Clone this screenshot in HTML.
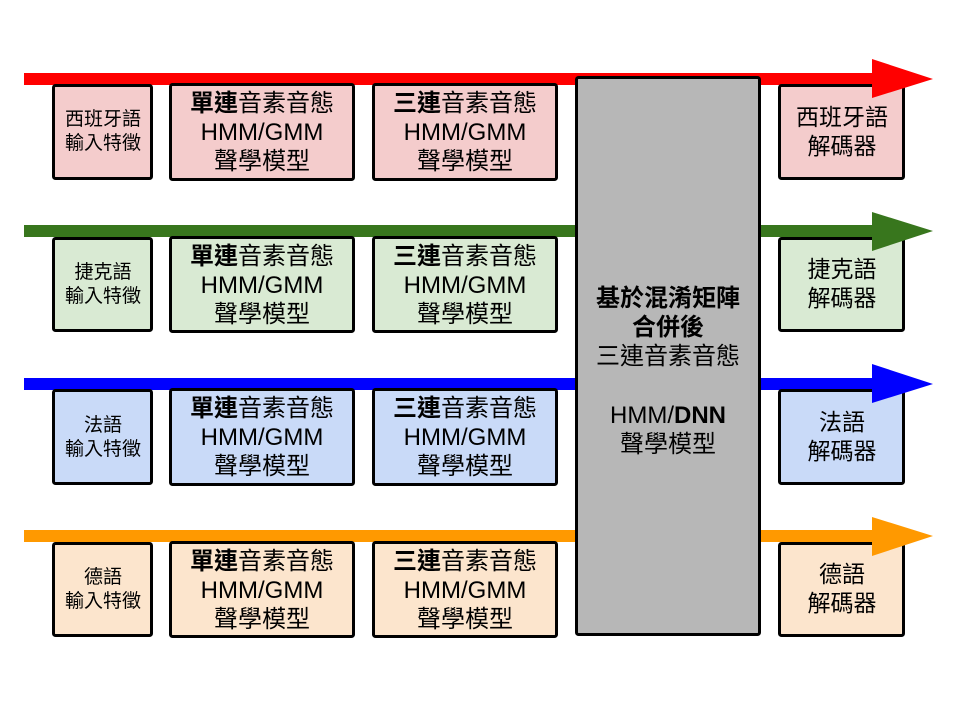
<!DOCTYPE html>
<html><head><meta charset="utf-8"><style>
html,body{margin:0;padding:0;background:#fff;}
svg{display:block}
text{font-family:"Liberation Sans","Noto Sans CJK TC",sans-serif;fill:#000;text-anchor:middle}
</style></head><body>
<svg width="960" height="720" viewBox="0 0 960 720" xmlns="http://www.w3.org/2000/svg">
<g>
<rect x="24" y="73" width="852" height="12" fill="#ff0000"/>
<rect x="53.5" y="85.5" width="98" height="93" rx="2" fill="#f4cccc" stroke="#000" stroke-width="3"/>
<rect x="170.5" y="84.5" width="183" height="95" rx="2" fill="#f4cccc" stroke="#000" stroke-width="3"/>
<rect x="373.5" y="84.5" width="183" height="95" rx="2" fill="#f4cccc" stroke="#000" stroke-width="3"/>
<rect x="779.5" y="85.5" width="124" height="93" rx="2" fill="#f4cccc" stroke="#000" stroke-width="3"/>
<polygon points="872,59 933,79 872,98" fill="#ff0000"/>
<text x="103" y="125" font-size="19">西班牙語</text><text x="103" y="149" font-size="19">輸入特徵</text>
<text x="262" y="111" font-size="24"><tspan font-weight="bold">單連</tspan>音素音態</text><text x="262" y="140" font-size="24">HMM/GMM</text><text x="262" y="169" font-size="24">聲學模型</text>
<text x="465" y="111" font-size="24"><tspan font-weight="bold">三連</tspan>音素音態</text><text x="465" y="140" font-size="24">HMM/GMM</text><text x="465" y="169" font-size="24">聲學模型</text>
<text x="842" y="125" font-size="23">西班牙語</text><text x="842" y="154" font-size="23">解碼器</text>
</g>
<g>
<rect x="24" y="225" width="852" height="12" fill="#38761d"/>
<rect x="53.5" y="238.5" width="98" height="92" rx="2" fill="#d9ead3" stroke="#000" stroke-width="3"/>
<rect x="170.5" y="237.5" width="183" height="94" rx="2" fill="#d9ead3" stroke="#000" stroke-width="3"/>
<rect x="373.5" y="237.5" width="183" height="94" rx="2" fill="#d9ead3" stroke="#000" stroke-width="3"/>
<rect x="779.5" y="238.5" width="124" height="92" rx="2" fill="#d9ead3" stroke="#000" stroke-width="3"/>
<polygon points="872,212 933,231 872,251" fill="#38761d"/>
<text x="103" y="278" font-size="19">捷克語</text><text x="103" y="302" font-size="19">輸入特徵</text>
<text x="262" y="264" font-size="24"><tspan font-weight="bold">單連</tspan>音素音態</text><text x="262" y="293" font-size="24">HMM/GMM</text><text x="262" y="322" font-size="24">聲學模型</text>
<text x="465" y="264" font-size="24"><tspan font-weight="bold">三連</tspan>音素音態</text><text x="465" y="293" font-size="24">HMM/GMM</text><text x="465" y="322" font-size="24">聲學模型</text>
<text x="842" y="277" font-size="23">捷克語</text><text x="842" y="306" font-size="23">解碼器</text>
</g>
<g>
<rect x="24" y="378" width="852" height="12" fill="#0000ff"/>
<rect x="53.5" y="390.5" width="98" height="93" rx="2" fill="#c9daf8" stroke="#000" stroke-width="3"/>
<rect x="170.5" y="389.5" width="183" height="95" rx="2" fill="#c9daf8" stroke="#000" stroke-width="3"/>
<rect x="373.5" y="389.5" width="183" height="95" rx="2" fill="#c9daf8" stroke="#000" stroke-width="3"/>
<rect x="779.5" y="390.5" width="124" height="93" rx="2" fill="#c9daf8" stroke="#000" stroke-width="3"/>
<polygon points="872,364 933,384 872,403" fill="#0000ff"/>
<text x="103" y="431" font-size="19">法語</text><text x="103" y="455" font-size="19">輸入特徵</text>
<text x="262" y="416" font-size="24"><tspan font-weight="bold">單連</tspan>音素音態</text><text x="262" y="445" font-size="24">HMM/GMM</text><text x="262" y="474" font-size="24">聲學模型</text>
<text x="465" y="416" font-size="24"><tspan font-weight="bold">三連</tspan>音素音態</text><text x="465" y="445" font-size="24">HMM/GMM</text><text x="465" y="474" font-size="24">聲學模型</text>
<text x="842" y="430" font-size="23">法語</text><text x="842" y="459" font-size="23">解碼器</text>
</g>
<g>
<rect x="24" y="530" width="852" height="12" fill="#ff9900"/>
<rect x="53.5" y="543.5" width="98" height="92" rx="2" fill="#fce5cd" stroke="#000" stroke-width="3"/>
<rect x="170.5" y="542.5" width="183" height="94" rx="2" fill="#fce5cd" stroke="#000" stroke-width="3"/>
<rect x="373.5" y="542.5" width="183" height="94" rx="2" fill="#fce5cd" stroke="#000" stroke-width="3"/>
<rect x="779.5" y="543.5" width="124" height="92" rx="2" fill="#fce5cd" stroke="#000" stroke-width="3"/>
<polygon points="872,517 933,536 872,556" fill="#ff9900"/>
<text x="103" y="583" font-size="19">德語</text><text x="103" y="607" font-size="19">輸入特徵</text>
<text x="262" y="569" font-size="24"><tspan font-weight="bold">單連</tspan>音素音態</text><text x="262" y="598" font-size="24">HMM/GMM</text><text x="262" y="627" font-size="24">聲學模型</text>
<text x="465" y="569" font-size="24"><tspan font-weight="bold">三連</tspan>音素音態</text><text x="465" y="598" font-size="24">HMM/GMM</text><text x="465" y="627" font-size="24">聲學模型</text>
<text x="842" y="582" font-size="23">德語</text><text x="842" y="611" font-size="23">解碼器</text>
</g>
<rect x="576.5" y="77.5" width="183" height="557" rx="2" fill="#b7b7b7" stroke="#000" stroke-width="3"/>
<text x="668" y="306" font-size="24" font-weight="bold">基於混淆矩陣</text>
<text x="668" y="335" font-size="24" font-weight="bold">合併後</text>
<text x="668" y="364" font-size="24">三連音素音態</text>
<text x="668" y="423" font-size="24">HMM/<tspan font-weight="bold">DNN</tspan></text>
<text x="668" y="452" font-size="24">聲學模型</text>
</svg>
</body></html>
